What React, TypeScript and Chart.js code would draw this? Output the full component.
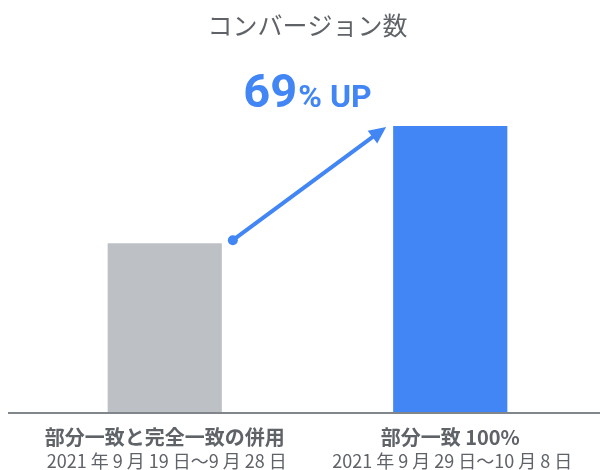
import React, { useEffect, useRef } from "react";
import { Chart, registerables } from "chart.js";

Chart.register(...registerables);

const titleText = "コンバージョン数";
const categories = ["部分一致と完全一致の併用", "部分一致 100%"];
const periods = ["2021 年 9 月 19 日〜9 月 28 日", "2021 年 9 月 29 日〜10 月 8 日"];
const conversions = [100, 169];
const barColors = ["#bdc1c6", "#4285f4"];
const liftNumber = "69";
const liftSuffix = "% UP";

const CJK = '"Noto Sans CJK JP", "Noto Sans", sans-serif';
const LATIN = 'Roboto, "Noto Sans", sans-serif';
const GREY_TEXT = "#5f6368";
const BLUE = "#4285f4";

const overlayPlugin = {
  id: "overlay",
  afterDatasetsDraw(chart: any) {
    const ctx = chart.ctx as CanvasRenderingContext2D;
    const xScale = chart.scales.x;
    const area = chart.chartArea;
    const meta = chart.getDatasetMeta(0);
    ctx.save();

    // baseline
    ctx.strokeStyle = "#80868b";
    ctx.lineWidth = 2;
    ctx.beginPath();
    ctx.moveTo(8, area.bottom);
    ctx.lineTo(600, area.bottom);
    ctx.stroke();

    // category labels
    ctx.textAlign = "center";
    ctx.textBaseline = "middle";
    ctx.fillStyle = GREY_TEXT;
    categories.forEach((c, i) => {
      const x = xScale.getPixelForValue(i);
      ctx.font = `bold 20px ${CJK}`;
      ctx.fillText(c, x, area.bottom + 24);
      ctx.font = `18px ${CJK}`;
      ctx.fillText(periods[i], x + 2, area.bottom + 48);
    });

    // arrow
    const a = meta.data[0] as any;
    const b = meta.data[1] as any;
    const sx = a.x + a.width / 2 + 11;
    const sy = a.y - 3;
    const ex = b.x - b.width / 2 - 7;
    const ey = b.y + 1;
    const ang = Math.atan2(ey - sy, ex - sx);
    const headLen = 17;
    const headW = 8;
    ctx.strokeStyle = BLUE;
    ctx.fillStyle = BLUE;
    ctx.lineWidth = 4;
    ctx.beginPath();
    ctx.moveTo(sx, sy);
    ctx.lineTo(ex - Math.cos(ang) * (headLen - 2), ey - Math.sin(ang) * (headLen - 2));
    ctx.stroke();
    ctx.beginPath();
    ctx.arc(sx, sy, 5, 0, Math.PI * 2);
    ctx.fill();
    const bx = ex - Math.cos(ang) * headLen;
    const by = ey - Math.sin(ang) * headLen;
    ctx.beginPath();
    ctx.moveTo(ex, ey);
    ctx.lineTo(bx + Math.sin(ang) * headW, by - Math.cos(ang) * headW);
    ctx.lineTo(bx - Math.sin(ang) * headW, by + Math.cos(ang) * headW);
    ctx.closePath();
    ctx.fill();

    // lift text
    const cx = (area.left + area.right) / 2;
    ctx.textBaseline = "alphabetic";
    ctx.textAlign = "left";
    ctx.font = `bold 47px ${LATIN}`;
    const w1 = ctx.measureText(liftNumber).width;
    ctx.font = `bold 32px ${LATIN}`;
    const w2 = ctx.measureText(liftSuffix).width;
    const gap = 1;
    const start = cx - (w1 + gap + w2) / 2;
    ctx.font = `bold 47px ${LATIN}`;
    ctx.fillText(liftNumber, start, 107);
    ctx.font = `bold 32px ${LATIN}`;
    ctx.fillText(liftSuffix, start + w1 + gap, 107);

    ctx.restore();
  },
};

export default function App() {
  const ref = useRef<HTMLCanvasElement>(null);
  useEffect(() => {
    if (!ref.current) return;
    const chart = new Chart(ref.current, {
      type: "bar",
      data: {
        labels: categories,
        datasets: [
          {
            data: conversions,
            backgroundColor: barColors,
            barPercentage: 0.4,
            categoryPercentage: 1,
          },
        ],
      },
      options: {
        animation: false,
        responsive: false,
        maintainAspectRatio: false,
        devicePixelRatio: 1,
        layout: { padding: { top: 10, left: 22, right: 7, bottom: 57 } },
        scales: {
          x: { display: false },
          y: { display: false, min: 0, max: 169 },
        },
        plugins: {
          legend: { display: false },
          tooltip: { enabled: false },
          title: {
            display: true,
            text: titleText,
            color: GREY_TEXT,
            font: { family: CJK, size: 25, weight: "normal" },
            padding: { top: 0, bottom: 86 },
          },
        },
      },
      plugins: [overlayPlugin],
    });
    return () => chart.destroy();
  }, []);
  return (
    <div style={{ position: "fixed", left: 0, top: 0, width: 600, height: 470, background: "#fff" }}>
      <canvas ref={ref} width={600} height={470} style={{ width: 600, height: 470 }} />
    </div>
  );
}
